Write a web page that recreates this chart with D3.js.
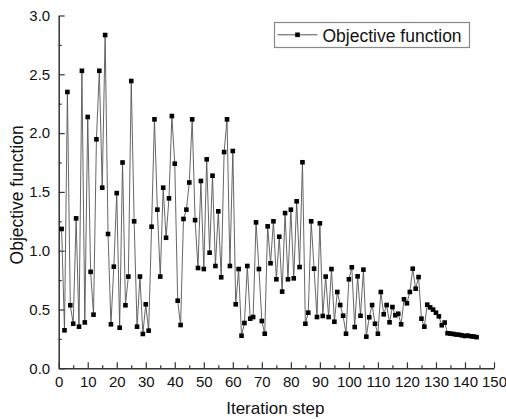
<!DOCTYPE html>
<html>
<head>
<meta charset="utf-8">
<script src="https://cdn.jsdelivr.net/npm/d3@7"></script>
<style>
  body { margin: 0; background: #fff; }
  text { font-family: "Liberation Sans", Arial, sans-serif; }
</style>
</head>
<body>
<div class="chart"></div>
<script>
// iteration steps 1..144 and objective value
var steps = d3.range(1, 145);
var objective = [
  1.185, 0.323, 2.35, 0.536, 0.379, 1.275, 0.354, 2.53, 0.39, 2.137,
  0.82, 0.456, 1.947, 2.53, 1.536, 2.834, 1.142, 0.374, 0.864, 1.49,
  0.345, 1.75, 0.536, 0.78, 2.443, 1.25, 0.354, 0.78, 0.292, 0.544,
  0.32, 1.204, 2.117, 1.349, 0.78, 1.536, 1.11, 1.445, 2.145, 1.74,
  0.575, 0.368, 1.27, 1.349, 1.58, 2.117, 1.26, 0.853, 1.593, 0.844,
  1.777, 0.983, 1.638, 0.87, 1.335, 0.774, 1.839, 2.117, 0.87, 1.848,
  0.544, 0.844, 0.277, 0.385, 0.87, 0.422, 0.436, 1.241, 0.844, 0.402,
  0.294, 1.207, 0.893, 1.25, 0.757, 1.119, 0.652, 1.32, 0.757, 1.349,
  0.765, 1.42, 0.861, 1.752, 0.379, 0.473, 1.25, 0.847, 0.436, 1.233,
  0.445, 0.78, 0.436, 0.844, 0.396, 0.649, 0.538, 0.447, 0.294, 0.757,
  0.859, 0.351, 0.782, 0.447, 0.839, 0.269, 0.434, 0.538, 0.379, 0.294,
  0.649, 0.459, 0.538, 0.391, 0.521, 0.451, 0.464, 0.374, 0.587, 0.553,
  0.649, 0.847, 0.677, 0.776, 0.422, 0.354, 0.541, 0.518, 0.499, 0.473,
  0.442, 0.366, 0.389, 0.298, 0.295, 0.292, 0.287, 0.285, 0.28, 0.275,
  0.278, 0.272, 0.27, 0.265
];
var xTicks = d3.range(0, 151, 10);
var xMinor = d3.range(5, 150, 10);
var yTicks = [0, 0.5, 1.0, 1.5, 2.0, 2.5, 3.0];
var yMinor = [0.25, 0.75, 1.25, 1.75, 2.25, 2.75];
var seriesName = "Objective function";

var W = 506, H = 419;
var margin = { top: 15.5, right: 12, bottom: 50.7, left: 58.7 };
var width = W - margin.left - margin.right,
    height = H - margin.top - margin.bottom;

var svg = d3.select(".chart").append("svg")
    .attr("width", W)
    .attr("height", H);

var g = svg.append("g")
    .attr("transform", "translate(" + margin.left + "," + margin.top + ")");

var x = d3.scaleLinear().domain([0, 150]).range([0, 435.3]);
var y = d3.scaleLinear().domain([0, 3]).range([height, 0]);

// minor ticks first
g.append("g")
    .attr("transform", "translate(0," + height + ")")
    .call(d3.axisBottom(x).tickValues(xMinor).tickSize(-3).tickSizeOuter(0).tickFormat(""))
    .call(function(a) { a.select(".domain").remove(); });
g.append("g")
    .call(d3.axisLeft(y).tickValues(yMinor).tickSize(-3).tickSizeOuter(0).tickFormat(""))
    .call(function(a) { a.select(".domain").remove(); });

var xAxis = g.append("g")
    .attr("transform", "translate(0," + height + ")")
    .call(d3.axisBottom(x).tickValues(xTicks).tickSize(-6).tickSizeOuter(0).tickPadding(8.5));
var yAxis = g.append("g")
    .call(d3.axisLeft(y).tickValues(yTicks).tickSize(-6).tickSizeOuter(0).tickPadding(8.5)
        .tickFormat(d3.format(".1f")));

g.selectAll(".tick line").attr("stroke", "#333").attr("stroke-width", 1.2);
g.selectAll(".domain").attr("stroke", "#333").attr("stroke-width", 1.5);
g.selectAll(".tick text").attr("fill", "#111").style("font-size", "15px")
    .style("font-family", "'Liberation Sans', Arial, sans-serif");

// axis titles
g.append("text")
    .attr("x", width / 2 - 1)
    .attr("y", height + 46)
    .attr("text-anchor", "middle")
    .style("font-size", "17px")
    .attr("fill", "#111")
    .text("Iteration step");

g.append("text")
    .attr("transform", "rotate(-90)")
    .attr("x", -(height / 2) - 3)
    .attr("y", -36)
    .attr("text-anchor", "middle")
    .style("font-size", "17.5px")
    .attr("fill", "#111")
    .text("Objective function");

// line + square markers
var data = steps.map(function(s, i) { return { step: s, value: objective[i] }; });

var line = d3.line()
    .x(function(d) { return x(d.step); })
    .y(function(d) { return y(d.value); });

g.append("path")
    .datum(data)
    .attr("fill", "none")
    .attr("stroke", "#555")
    .attr("stroke-width", 0.9)
    .attr("d", line);

var ms = 4.6;
g.selectAll(".pt")
    .data(data)
    .enter().append("rect")
    .attr("class", "pt")
    .attr("x", function(d) { return x(d.step) - ms / 2; })
    .attr("y", function(d) { return y(d.value) - ms / 2; })
    .attr("width", ms)
    .attr("height", ms)
    .attr("fill", "#000");

// legend
var legend = svg.append("g").attr("transform", "translate(274.5,22.5)");
legend.append("rect")
    .attr("width", 195)
    .attr("height", 25)
    .attr("fill", "#fff")
    .attr("stroke", "#888")
    .attr("stroke-width", 1.2);
legend.append("line")
    .attr("x1", 3).attr("x2", 43)
    .attr("y1", 12.3).attr("y2", 12.3)
    .attr("stroke", "#555")
    .attr("stroke-width", 1);
legend.append("rect")
    .attr("x", 23 - ms / 2).attr("y", 12.3 - ms / 2)
    .attr("width", ms).attr("height", ms)
    .attr("fill", "#000");
legend.append("text")
    .attr("x", 48)
    .attr("y", 19)
    .style("font-size", "17.5px")
    .attr("fill", "#111")
    .text(seriesName);
</script>
</body>
</html>
